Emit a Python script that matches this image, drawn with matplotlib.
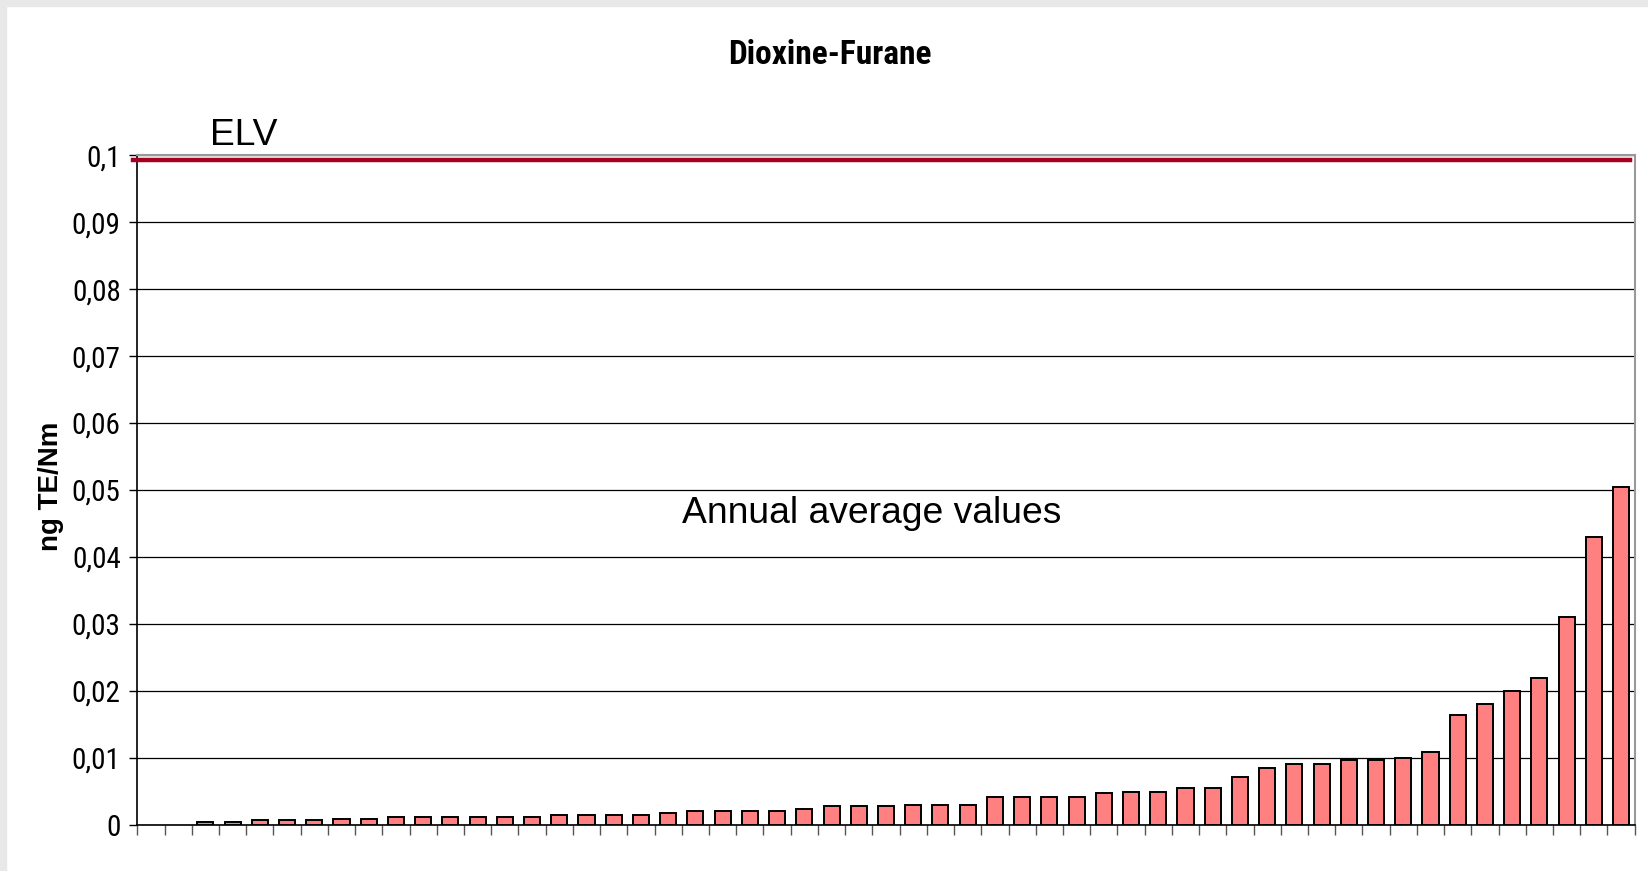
import numpy as np
import matplotlib.pyplot as plt
from matplotlib import font_manager as fm
from matplotlib.patches import Rectangle
from matplotlib.ticker import FuncFormatter

# data (55 categories, first two empty)
values = [np.nan, np.nan,
          0.00035, 0.00035, 0.00065, 0.00065, 0.00065, 0.0009, 0.0009,
          0.0012, 0.0012, 0.0012, 0.0012, 0.0012, 0.0012,
          0.00145, 0.00145, 0.00145, 0.00145, 0.0017,
          0.002, 0.002, 0.002, 0.002, 0.0023,
          0.0028, 0.0028, 0.0028, 0.003, 0.003, 0.003,
          0.0042, 0.0042, 0.0042, 0.0042, 0.0047, 0.0049, 0.0049,
          0.0055, 0.0055, 0.0072, 0.0085, 0.0091, 0.0091,
          0.0096, 0.0096, 0.0099, 0.0109, 0.0164, 0.0181,
          0.020, 0.0219, 0.031, 0.043, 0.0505]
elv = 0.0993
yticks = [0, 0.01, 0.02, 0.03, 0.04, 0.05, 0.06, 0.07, 0.08, 0.09, 0.1]

names = {f.name for f in fm.fontManager.ttflist}
narrow = 'Roboto Condensed' if 'Roboto Condensed' in names else 'Liberation Sans'
arial = 'Liberation Sans'

fig = plt.figure(figsize=(16.48, 8.71), dpi=100, facecolor='white')
# gray frame strips at top and left
fig.patches.append(Rectangle((0, 0), 6/1648, 1, transform=fig.transFigure, color='#e8e8e8', zorder=0))
fig.patches.append(Rectangle((0, 1-6/871), 1, 6/871, transform=fig.transFigure, color='#e8e8e8', zorder=0))

ax = fig.add_axes([137.3/1648, 46.3/871, 1497.4/1648, 669.4/871])

n = len(values)
x = np.arange(n) + 0.5
ax.bar(x, values, width=0.59, color='#ff8080', edgecolor='black', linewidth=1.4, zorder=3)

ax.set_xlim(0, n)
ax.set_ylim(0, 0.1)
ax.set_yticks(yticks)
ax.yaxis.set_major_formatter(FuncFormatter(lambda v, p: ('%g' % round(v, 3)).replace('.', ',')))
ax.set_xticks(np.arange(n + 1))
ax.set_xticklabels([])

ax.grid(axis='y', color='black', linewidth=0.9, zorder=1)
ax.tick_params(axis='y', length=6, width=1, color='black', pad=6, labelsize=21)
ax.tick_params(axis='x', length=7, width=1, color='#555555')
for lab in ax.get_yticklabels():
    lab.set_fontfamily(narrow)

for s in ['top', 'right']:
    ax.spines[s].set_color('#999999')
    ax.spines[s].set_linewidth(1.5)
for s in ['left', 'bottom']:
    ax.spines[s].set_color('black')
    ax.spines[s].set_linewidth(1.2)

# ELV limit line
ax.plot([-0.17, n - 0.17], [elv, elv], color='#a50021', linewidth=3.2, clip_on=False, zorder=4)

ax.text(2.67, 0.1015, 'ELV', fontsize=26.8, family=arial, ha='left', va='baseline')
ax.text(20.0, 0.045, 'Annual average values', fontsize=26.8, family=arial, ha='left', va='baseline')

fig.text(830/1648, 1 - 55/871, 'Dioxine-Furane', fontsize=24, fontweight='bold',
         family=narrow, ha='center', va='center')
fig.text(51/1648, 1 - 486/871, 'ng TE/Nm', fontsize=20, fontweight='bold',
         family=arial, rotation=90, ha='center', va='center')

fig.savefig('out.png', dpi=100, facecolor='white')
